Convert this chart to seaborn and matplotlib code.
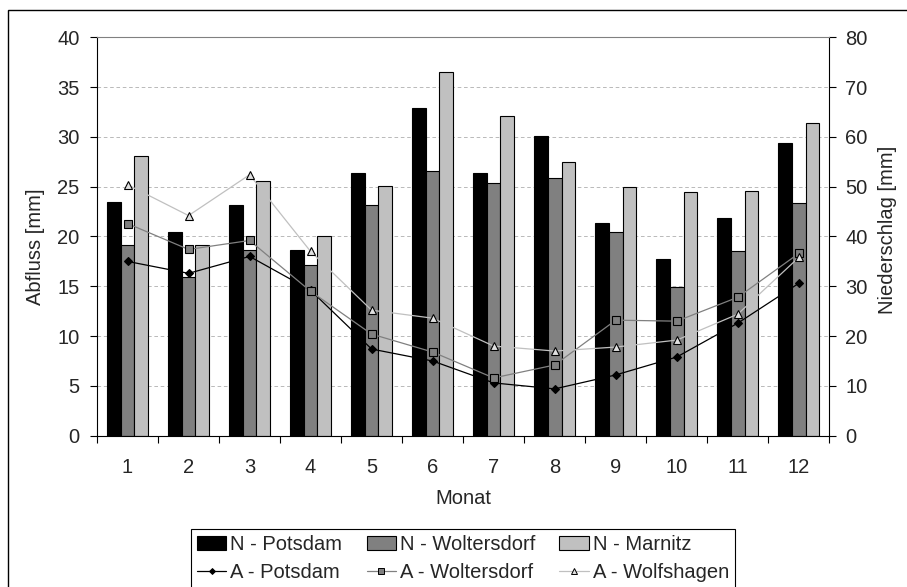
import numpy as np
import pandas as pd
import matplotlib
matplotlib.use('Agg')
import matplotlib.pyplot as plt
from matplotlib.patches import Patch, Rectangle
from matplotlib.lines import Line2D
import seaborn as sns

# Monatswerte
monate = ['1', '2', '3', '4', '5', '6', '7', '8', '9', '10', '11', '12']

# Niederschlag [mm] (rechte Achse)
n_potsdam = [46.9, 40.9, 46.3, 37.2, 52.7, 65.8, 52.7, 60.2, 42.8, 35.5, 43.7, 58.7]
n_woltersdorf = [38.3, 31.9, 37.2, 34.2, 46.4, 53.1, 50.7, 51.8, 41.0, 29.9, 37.0, 46.7]
n_marnitz = [56.1, 38.3, 51.1, 40.0, 50.1, 73.1, 64.1, 55.0, 49.9, 48.9, 49.2, 62.7]

# Abfluss [mm] (linke Achse)
a_potsdam = [17.5, 16.3, 18.0, 14.6, 8.7, 7.5, 5.3, 4.7, 6.1, 7.9, 11.3, 15.3]
a_woltersdorf = [21.3, 18.7, 19.6, 14.5, 10.2, 8.4, 5.8, 7.1, 11.6, 11.5, 13.9, 18.3]
a_wolfshagen = [25.2, 22.1, 26.2, 18.5, 12.6, 11.8, 9.0, 8.5, 8.9, 9.6, 12.2, 17.9]

sns.set_style('ticks')
plt.rcParams['font.family'] = ['Liberation Sans', 'DejaVu Sans']
FS = 14.5

bar_names = ['N - Potsdam', 'N - Woltersdorf', 'N - Marnitz']
bar_colors = ['#000000', '#808080', '#C0C0C0']
df_n = pd.DataFrame({
    'Monat': monate * 3,
    'Station': np.repeat(bar_names, len(monate)),
    'Niederschlag': n_potsdam + n_woltersdorf + n_marnitz,
})

fig = plt.figure(figsize=(9.07, 5.87), dpi=100)
ax = fig.add_axes([0.10695, 0.25775, 0.80739, 0.67871])
ax2 = ax.twinx()

# Balken: Niederschlag auf der rechten Achse
sns.barplot(data=df_n, x='Monat', y='Niederschlag', hue='Station',
            palette=bar_colors, width=0.67, saturation=1, errorbar=None,
            edgecolor='black', linewidth=0.8, legend=False, ax=ax2)
ax2.set_ylim(0, 80)
ax2.set_yticks(range(0, 81, 10))
ax2.set_axisbelow(True)
ax2.yaxis.grid(True, linestyle=(0, (4, 3)), color='#B4B4B4', linewidth=0.65)
ax2.set_ylabel('Niederschlag [mm]', fontsize=FS)
ax2.yaxis.set_label_coords(1.0665, 0.516)
ax2.tick_params(axis='y', labelsize=FS, length=5, width=0.8, pad=6.5,
                color='black', direction='out')
for s in ['left', 'top', 'bottom']:
    ax2.spines[s].set_visible(False)
ax2.spines['right'].set_color('black')
ax2.spines['right'].set_linewidth(0.8)

# Linien: Abfluss auf der linken Achse
x = np.arange(len(monate))
line_specs = [
    ('A - Potsdam', a_potsdam, 'black', 'D', 'black', 4.5),
    ('A - Woltersdorf', a_woltersdorf, '#808080', 's', '#808080', 5.5),
    ('A - Wolfshagen', a_wolfshagen, '#C0C0C0', '^', '#E0E0E0', 5.5),
]
for name, vals, col, mk, face, ms in line_specs:
    sns.lineplot(x=x, y=vals, ax=ax, color=col, linewidth=0.9, marker=mk,
                 markersize=ms, markerfacecolor=face, markeredgecolor='black',
                 markeredgewidth=0.8, errorbar=None)

ax.set_zorder(ax2.get_zorder() + 1)
ax.patch.set_visible(False)
ax.set_ylim(0, 40)
ax.set_yticks(range(0, 41, 5))
ax.set_xlim(-0.5, len(monate) - 0.5)
ax.set_xticks(x)
ax.set_xticklabels(monate)
ax.set_xticks(np.arange(-0.5, len(monate)), minor=True)
ax.tick_params(axis='x', which='major', length=0, labelsize=FS, pad=16)
ax.tick_params(axis='x', which='minor', length=5, width=0.8, color='black',
               direction='out')
ax.tick_params(axis='y', labelsize=FS, length=5, width=0.8, pad=7.5,
               color='black', direction='out')
ax.set_ylabel('Abfluss [mm]', fontsize=FS)
ax.yaxis.set_label_coords(-0.071, 0.474)
ax.set_xlabel('Monat', fontsize=FS)
ax.xaxis.set_label_coords(0.5, -0.134)
ax.spines['right'].set_visible(False)
ax.spines['top'].set_color('#808080')
ax.spines['top'].set_linewidth(0.8)
for s in ['left', 'bottom']:
    ax.spines[s].set_color('black')
    ax.spines[s].set_linewidth(0.8)

# Legende (spaltenweise befuellt)
handles = []
labels = []
for i in range(3):
    handles.append(Patch(facecolor=bar_colors[i], edgecolor='black', linewidth=0.8))
    labels.append(bar_names[i])
    name, vals, col, mk, face, ms = line_specs[i]
    handles.append(Line2D([], [], color=col, linewidth=0.9, marker=mk,
                          markersize=ms - 1.5, markerfacecolor=face,
                          markeredgecolor='black', markeredgewidth=0.7))
    labels.append(name)
leg = fig.legend(handles, labels, ncol=3, loc='upper center',
                 bbox_to_anchor=(0.5105, 0.0985), fontsize=FS, frameon=True,
                 fancybox=False, framealpha=1, edgecolor='black',
                 handlelength=1.45, handleheight=0.65, handletextpad=0.2,
                 columnspacing=1.2, labelspacing=0.42, borderpad=0.3,
                 borderaxespad=0)
leg.get_frame().set_linewidth(0.8)

# aeusserer Rahmen
fig.patches.append(Rectangle((8 / 907, -0.1), 1.2, 1.1 - 10 / 587,
                             transform=fig.transFigure, fill=False,
                             edgecolor='black', linewidth=1.0))

fig.savefig('out.png', dpi=100)
plt.close(fig)
